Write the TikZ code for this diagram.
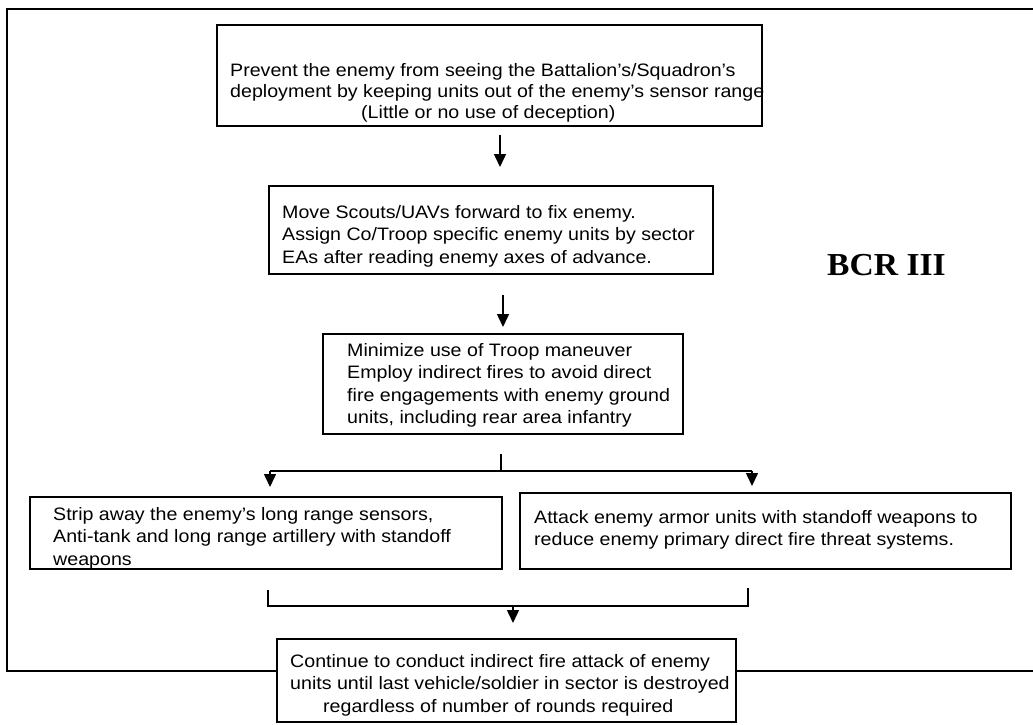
\documentclass[tikz,border=0pt]{standalone}
\usepackage{fontspec}
\setmainfont[FakeStretch=1.09]{Liberation Sans}
\newfontfamily\bcrfont[FakeStretch=1.05]{Liberation Serif}
\usetikzlibrary{arrows.meta,calc}
\begin{document}
\begin{tikzpicture}[x=1pt,y=-1pt,
  box/.style={draw, line width=1.8pt, fill=white, inner sep=0pt, anchor=north west},
  txt/.style={anchor=north west, inner sep=0pt, align=left, font=\fontsize{18}{22.5}\selectfont},
  conn/.style={line width=1.4pt},
  arr/.style={conn, -{Triangle[width=12pt,length=13pt]}}]
\useasboundingbox (0,0) rectangle (1033,724);
\fill[white] (0,0) rectangle (1033,724);
% outer frame (right side lies beyond the page)
\draw[line width=1.8pt] (1040,9) -- (7,9) -- (7,671) -- (1040,671);
% boxes
\node[box, minimum width=545pt, minimum height=101pt] (b1) at (216,24) {};
\node[box, minimum width=444pt, minimum height=88pt] (b2) at (268,185) {};
\node[box, minimum width=360pt, minimum height=100pt] (b3) at (322,333) {};
\node[box, minimum width=472pt, minimum height=72pt] (b4) at (29,496) {};
\node[box, minimum width=491pt, minimum height=76pt] (b5) at (519,492) {};
\node[box, minimum width=459pt, minimum height=83pt] (b6) at (276,638) {};
% texts
\node[txt, font=\fontsize{18}{21}\selectfont] (t1) at (230,63) {Prevent the enemy from seeing the Battalion’s/Squadron’s\\deployment by keeping units out of the enemy’s sensor range\\\hspace*{131pt}(Little or no use of deception)};
\node[txt] (t2) at (282,205) {Move Scouts/UAVs forward to fix enemy.\\Assign Co/Troop specific enemy units by sector\\EAs after reading enemy axes of advance.};
\node[txt] (t3) at (347,343) {Minimize use of Troop maneuver\\Employ indirect fires to avoid direct\\fire engagements with enemy ground\\units, including rear area infantry};
\node[txt] (t4) at (53,507) {Strip away the enemy's long range sensors,\\Anti-tank and long range artillery with standoff\\weapons};
\node[txt] (t5) at (534,510) {Attack enemy armor units with standoff weapons to\\reduce enemy primary direct fire threat systems.};
\node[txt] (t6) at (290,654) {Continue to conduct indirect fire attack of enemy\\units until last vehicle/soldier in sector is destroyed\\\hspace*{33pt}regardless of number of rounds required};
\node[anchor=base west, inner sep=0pt, font=\bcrfont\bfseries\fontsize{32}{36}\selectfont] (bcr) at (827,275) {BCR III};
% connector coordinates
\coordinate (a1) at (500,0);
\coordinate (a2) at (503,0);
\coordinate (split) at (501,471);
\coordinate (sL) at (270,471);
\coordinate (sR) at (752,471);
\coordinate (mL) at (268,606);
\coordinate (mR) at (748,606);
\coordinate (mC) at (513,606);
% connectors
\draw[arr, shorten <=8pt, shorten >=18pt] (a1 |- b1.south) -- (a1 |- b2.north);
\draw[arr, shorten <=20pt, shorten >=6pt] (a2 |- b2.south) -- (a2 |- b3.north);
\draw[conn, shorten <=19pt] (split |- b3.south) -- (split);
\draw[conn] (sL) -- (sR);
\draw[arr, shorten >=9pt] (sL) -- (sL |- b4.north);
\draw[arr, shorten >=6pt] (sR) -- (sR |- b5.north);
\draw[conn] ($(mL |- b4.south)+(0,20)$) -- (mL) -- (mR) -- ($(mR |- b5.south)+(0,18)$);
\draw[arr, shorten >=15pt] (mC) -- (mC |- b6.north);
\end{tikzpicture}
\end{document}
